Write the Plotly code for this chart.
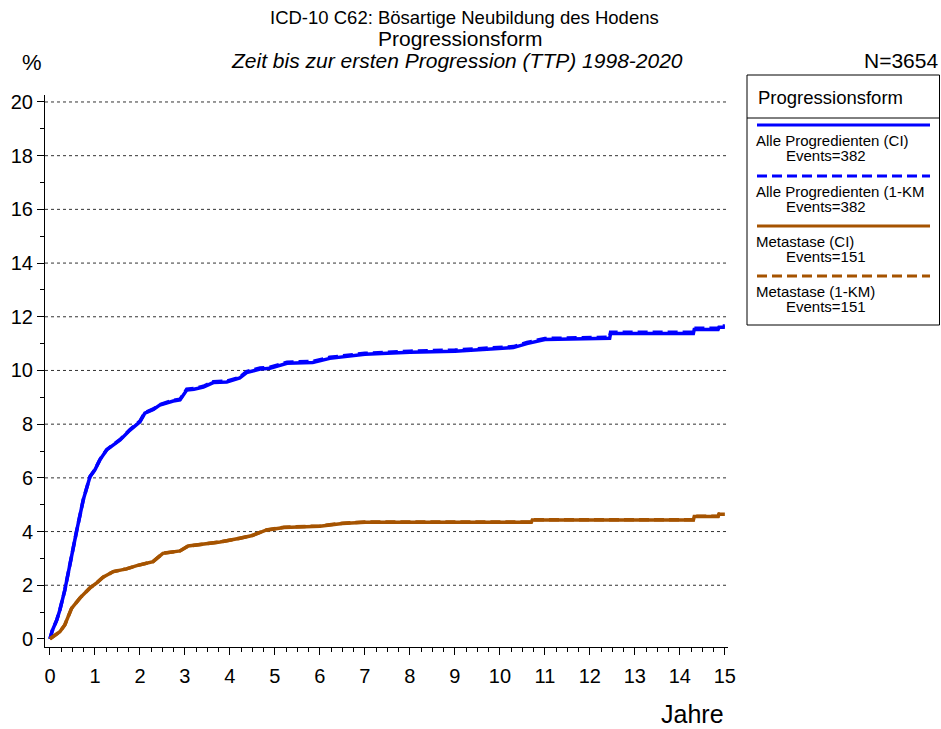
import plotly.graph_objects as go

# ---------------- data ----------------
t_all = [0, 0.05, 0.15, 0.22, 0.33, 0.45, 0.59, 0.74, 0.89, 1.0, 1.11, 1.26, 1.4, 1.56, 1.78, 2.0, 2.11,
         2.3, 2.44, 2.74, 2.89, 3.04, 3.2, 3.41, 3.63, 3.93, 4.22, 4.37, 4.67, 4.89, 5.27, 5.84, 6.22, 6.44,
         7.0, 8.0, 9.0, 9.8, 10.3, 10.6, 11.0, 12.44, 12.46, 14.3, 14.32, 14.85, 14.87, 15.0]
ci_all = [0, 0.3, 0.7, 1.08, 1.82, 2.9, 4.0, 5.18, 6.04, 6.3, 6.67, 7.04, 7.2, 7.41, 7.78, 8.09, 8.41,
          8.55, 8.71, 8.86, 8.9, 9.27, 9.3, 9.38, 9.55, 9.57, 9.72, 9.92, 10.05, 10.08, 10.27, 10.3, 10.45, 10.5,
          10.6, 10.68, 10.72, 10.8, 10.85, 11.0, 11.15, 11.2, 11.38, 11.38, 11.53, 11.53, 11.61, 11.61]
km_all = [0, 0.3, 0.7, 1.08, 1.82, 2.9, 4.0, 5.18, 6.05, 6.31, 6.68, 7.05, 7.21, 7.43, 7.8, 8.11, 8.43,
          8.57, 8.73, 8.89, 8.93, 9.3, 9.33, 9.41, 9.58, 9.6, 9.75, 9.96, 10.09, 10.12, 10.31, 10.34, 10.49, 10.54,
          10.64, 10.72, 10.76, 10.84, 10.89, 11.04, 11.19, 11.24, 11.42, 11.42, 11.57, 11.57, 11.66, 11.66]

t_met = [0, 0.1, 0.22, 0.33, 0.48, 0.67, 0.89, 1.04, 1.18, 1.41, 1.7, 1.93, 2.29, 2.51, 2.89, 3.07,
         3.48, 3.78, 4.22, 4.5, 4.8, 5.2, 6.0, 6.5, 7.0, 10.7, 10.72, 14.3, 14.32, 14.85, 14.87, 15.0]
ci_met = [0, 0.12, 0.27, 0.52, 1.14, 1.53, 1.9, 2.09, 2.3, 2.51, 2.61, 2.73, 2.88, 3.19, 3.28, 3.46,
          3.53, 3.61, 3.75, 3.85, 4.05, 4.15, 4.2, 4.3, 4.35, 4.35, 4.43, 4.43, 4.56, 4.56, 4.64, 4.64]
km_met = [0, 0.12, 0.27, 0.52, 1.14, 1.53, 1.9, 2.09, 2.3, 2.51, 2.61, 2.73, 2.88, 3.19, 3.28, 3.46,
          3.53, 3.61, 3.75, 3.86, 4.06, 4.16, 4.21, 4.31, 4.36, 4.36, 4.44, 4.44, 4.57, 4.57, 4.65, 4.65]

legend_names = ["Alle Progredienten (CI)", "Alle Progredienten (1-KM", "Metastase (CI)", "Metastase (1-KM)"]
legend_events = ["Events=382", "Events=382", "Events=151", "Events=151"]

y_ticks = list(range(0, 21, 2))
x_ticks = list(range(0, 16))
grid_vals = list(range(2, 21, 2))

BLUE = "#0000FF"
BROWN = "#A55300"
FONT = "Arial, Liberation Sans, sans-serif"

# ---------------- layout geometry (page pixels; body margin removed) ----------------
W, H = 941, 729
L, R, T, B = 45, 728, 95, 647   # page coords of plot area


def px(x):
    return (x - L) / (R - L)


def py(y):
    return (B - y) / (B - T)


fig = go.Figure()
fig.add_trace(go.Scatter(x=t_all, y=ci_all, mode="lines", line=dict(color=BLUE, width=3.5), showlegend=False))
fig.add_trace(go.Scatter(x=t_all, y=km_all, mode="lines", line=dict(color=BLUE, width=3.5, dash="10px,5px"), showlegend=False))
fig.add_trace(go.Scatter(x=t_met, y=ci_met, mode="lines", line=dict(color=BROWN, width=3.5), showlegend=False))
fig.add_trace(go.Scatter(x=t_met, y=km_met, mode="lines", line=dict(color=BROWN, width=3.5, dash="10px,5px"), showlegend=False))

shapes = []
for g in grid_vals:
    shapes.append(dict(type="line", xref="paper", yref="y", x0=0, x1=1, y0=g, y1=g,
                       line=dict(color="#333333", width=1, dash="dot"), layer="below"))

# legend box
shapes.append(dict(type="rect", xref="paper", yref="paper", x0=px(747), x1=px(939.5), y0=py(325), y1=py(75),
                   line=dict(color="black", width=1), fillcolor="white"))
shapes.append(dict(type="line", xref="paper", yref="paper", x0=px(747), x1=px(939.5), y0=py(118), y1=py(118),
                   line=dict(color="black", width=1)))

annotations = []
colors = [BLUE, BLUE, BROWN, BROWN]
dashes = ["solid", "10px,5px", "solid", "10px,5px"]
line_y = [125, 176, 226, 276]
for i in range(4):
    shapes.append(dict(type="line", xref="paper", yref="paper", x0=px(757), x1=px(930),
                       y0=py(line_y[i]), y1=py(line_y[i]),
                       line=dict(color=colors[i], width=3, dash=dashes[i])))
    annotations.append(dict(text=legend_names[i], xref="paper", yref="paper", x=px(755), y=py(line_y[i] + 15.5),
                            xanchor="left", yanchor="middle", showarrow=False, borderpad=0,
                            font=dict(size=15, color="black", family=FONT)))
    annotations.append(dict(text=legend_events[i], xref="paper", yref="paper", x=px(785), y=py(line_y[i] + 30.5),
                            xanchor="left", yanchor="middle", showarrow=False, borderpad=0,
                            font=dict(size=15, color="black", family=FONT)))

annotations.append(dict(text="Progressionsform", xref="paper", yref="paper", x=px(756), y=py(97),
                        xanchor="left", yanchor="middle", showarrow=False,
                        font=dict(size=18.5, color="black", family=FONT)))

# titles
annotations.append(dict(text="ICD-10 C62: Bösartige Neubildung des Hodens", xref="paper", yref="paper",
                        x=px(464), y=py(17), xanchor="center", yanchor="middle", showarrow=False,
                        font=dict(size=18.5, color="black", family=FONT)))
annotations.append(dict(text="Progressionsform", xref="paper", yref="paper",
                        x=px(460), y=py(38), xanchor="center", yanchor="middle", showarrow=False,
                        font=dict(size=21, color="black", family=FONT)))
annotations.append(dict(text="<i>Zeit bis zur ersten Progression (TTP) 1998-2020</i>", xref="paper", yref="paper",
                        x=px(457), y=py(60), xanchor="center", yanchor="middle", showarrow=False,
                        font=dict(size=21, color="black", family=FONT)))
annotations.append(dict(text="%", xref="paper", yref="paper", x=px(32), y=py(62), xanchor="center",
                        yanchor="middle", showarrow=False, font=dict(size=22, color="black", family=FONT)))
annotations.append(dict(text="N=3654", xref="paper", yref="paper", x=px(940), y=py(60), xanchor="right",
                        yanchor="middle", showarrow=False, font=dict(size=21, color="black", family=FONT)))
annotations.append(dict(text="Jahre", xref="paper", yref="paper", x=px(726), y=py(714), xanchor="right",
                        yanchor="middle", showarrow=False, font=dict(size=25, color="black", family=FONT)))

fig.update_layout(
    width=W, height=H,
    margin=dict(l=L, r=W - R, t=T, b=H - B, pad=0, autoexpand=False),
    paper_bgcolor="white", plot_bgcolor="white",
    font=dict(family=FONT, color="black"),
    shapes=shapes, annotations=annotations,
    xaxis=dict(range=[-0.11, 15.07], tickvals=x_ticks, ticktext=[str(v) for v in x_ticks],
               automargin=False,
               showgrid=False, zeroline=False, showline=True, linecolor="black", linewidth=1,
               ticks="outside", ticklen=7, tickwidth=1, tickcolor="black",
               tickfont=dict(size=20, family=FONT), ticklabelstandoff=4,
               minor=dict(dtick=0.25, tick0=0, ticks="outside", ticklen=4, tickcolor="black", showgrid=False)),
    yaxis=dict(range=[-0.30, 20.26], tickvals=y_ticks, ticktext=[str(v) for v in y_ticks],
               automargin=False,
               showgrid=False, zeroline=False, showline=True, linecolor="black", linewidth=1,
               ticks="outside", ticklen=7, tickwidth=1, tickcolor="black",
               tickfont=dict(size=20, family=FONT),
               minor=dict(dtick=1, tick0=0, ticks="outside", ticklen=4, tickcolor="black", showgrid=False)),
)

fig.write_html(
    "out.html",
    config={"displayModeBar": False},
    post_script="document.body.style.margin='0';document.documentElement.style.overflow='hidden';",
)
